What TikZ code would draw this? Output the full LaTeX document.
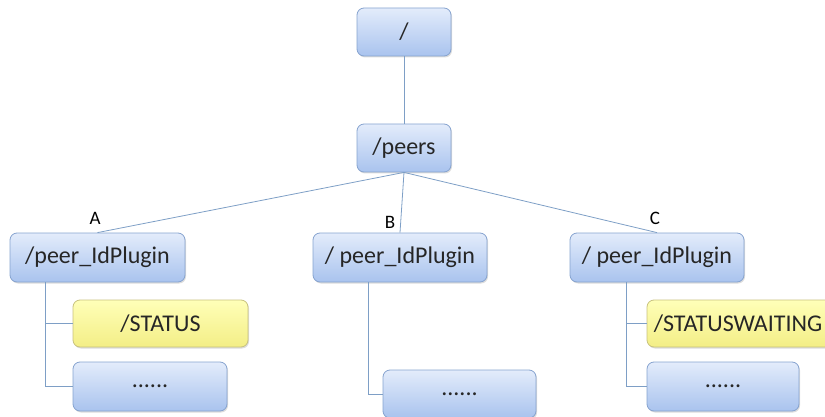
\documentclass[tikz,border=0pt]{standalone}
\usepackage{fontspec}
\setmainfont{Carlito}
\usetikzlibrary{shadows}
\definecolor{boxtop}{HTML}{E3ECFB}
\definecolor{boxbot}{HTML}{A9C3EE}
\definecolor{boxline}{HTML}{86A3CF}
\definecolor{yeltop}{HTML}{FFFFB8}
\definecolor{yelbot}{HTML}{F3EE86}
\definecolor{yelline}{HTML}{C8C27E}
\definecolor{wire}{HTML}{7E9FC6}
\tikzset{
  bluebox/.style={rectangle, rounded corners=7pt, draw=boxline, line width=0.8pt,
    top color=boxtop, bottom color=boxbot, text=black!85,
    font=\fontsize{24}{27}\selectfont, inner sep=0pt,
    drop shadow={shadow xshift=1pt, shadow yshift=-1.5pt, fill=black!30, opacity=0.45}},
  yelbox/.style={bluebox, draw=yelline, top color=yeltop, bottom color=yelbot},
  wirel/.style={draw=wire, line width=0.8pt},
  tag/.style={font=\fontsize{19}{21}\selectfont, text=black}
}
\begin{document}
\begin{tikzpicture}[x=1pt, y=-1pt]
  \useasboundingbox (0,0) rectangle (825,417);
  \clip (0,0) rectangle (825,417);

  % trunk points of the three sub-trees
  \coordinate (tA) at (45,282);
  \coordinate (tB) at (368,282);
  \coordinate (tC) at (626,282);

  % nodes
  \node[bluebox, minimum width=94pt, minimum height=48pt] (root) at (404,32) {/};
  \node[bluebox, minimum width=94pt, minimum height=48pt] (peers) at (404,148) {/peers};

  \node[bluebox, minimum width=175pt, minimum height=49pt] (A) at (97.5,257.5) {/peer\_IdPlugin};
  \node[bluebox, minimum width=174pt, minimum height=49pt] (B) at (400,257.5) {/ peer\_IdPlugin};
  \node[bluebox, minimum width=174pt, minimum height=49pt] (C) at (657,257.5) {/ peer\_IdPlugin};

  \node[yelbox, minimum width=175pt, minimum height=47pt] (sA) at (160.5,323.5) {/STATUS};
  \node[bluebox, minimum width=154pt, minimum height=49pt] (dA) at (150,386.5) {......};

  \node[bluebox, minimum width=153pt, minimum height=48pt] (dB) at (459.5,394) {......};

  \node[yelbox, minimum width=190pt, minimum height=47pt] (sC) at (742,323.5) {\hspace*{-8pt}/STATUSWAITING};
  \node[bluebox, minimum width=152pt, minimum height=49pt] (dC) at (723,386.5) {......};

  % edges
  \path[wirel] (root.south) -- (peers.north);
  \path[wirel] (peers.south) -- (A.north);
  \path[wirel] (peers.south) -- (B.north);
  \path[wirel] (peers.south) -- (C.north);

  \path[wirel] (tA) |- (sA.west);
  \path[wirel] (tA) |- (dA.west);
  \path[wirel] (tB) |- (dB.west);
  \path[wirel] (tC) |- (sC.west);
  \path[wirel] (tC) |- (dC.west);

  % branch labels
  \node[tag] (lA) at (95,218) {A};
  \node[tag] (lB) at (390,222) {B};
  \node[tag] (lC) at (655,218) {C};
\end{tikzpicture}
\end{document}
